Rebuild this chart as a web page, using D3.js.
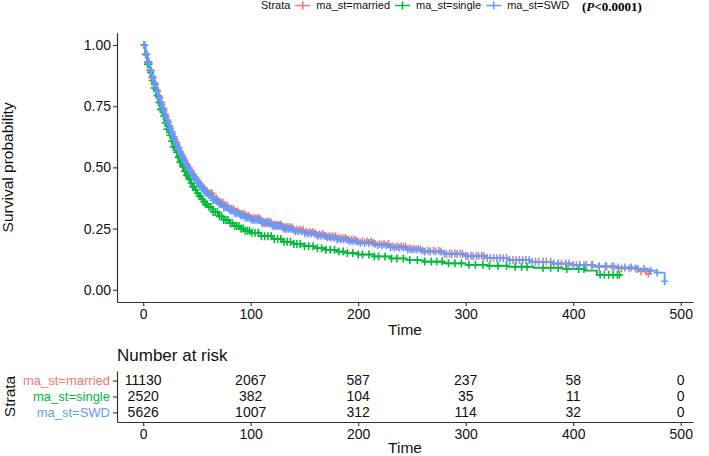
<!DOCTYPE html>
<html>
<head>
<meta charset="utf-8">
<script src="https://cdn.jsdelivr.net/npm/d3@7"></script>
<style>
  body { margin: 0; background: #fff; }
  text { font-family: "Liberation Sans", Arial, Helvetica, sans-serif; }
</style>
</head>
<body>
<svg id="chart" width="709" height="456"></svg>
<script>
// strata + colours (ggplot defaults)
const strata = ["ma_st=married", "ma_st=single", "ma_st=SWD"];
const colors = ["#F8766D", "#00BA38", "#619CFF"];

// KM estimates (time in months)
const marriedTime = [0,2,4,6,8,10,12,14,16,18,20,22,24,26,28,30,32,34,36,38,40,42,44,46,48,50,52,54,56,58,60,65,70,75,80,85,90,95,100,110,120,130,140,150,160,170,180,190,200,215,230,245,260,280,300,320,340,360,380,400,420,440,460,470];
const marriedSurv = [1,0.964,0.931,0.899,0.871,0.844,0.817,0.791,0.766,0.741,0.716,0.692,0.669,0.646,0.624,0.603,0.583,0.564,0.546,0.529,0.513,0.498,0.484,0.471,0.458,0.446,0.434,0.423,0.413,0.403,0.394,0.373,0.357,0.343,0.331,0.32,0.31,0.301,0.292,0.278,0.266,0.255,0.245,0.236,0.227,0.219,0.211,0.204,0.197,0.187,0.177,0.168,0.159,0.148,0.139,0.13,0.122,0.114,0.107,0.1,0.094,0.087,0.076,0.065];

const singleTime = [0,2,4,6,8,10,12,14,16,18,20,22,24,26,28,30,32,34,36,38,40,42,44,46,48,50,52,54,56,58,60,65,70,75,80,85,90,95,100,110,120,130,140,150,160,170,180,190,200,215,230,245,260,280,300,320,340,363,390,411,422,443];
const singleSurv = [1,0.96,0.922,0.887,0.855,0.824,0.794,0.765,0.737,0.709,0.682,0.656,0.631,0.607,0.584,0.562,0.541,0.521,0.502,0.484,0.467,0.451,0.436,0.421,0.407,0.394,0.382,0.37,0.359,0.349,0.339,0.318,0.3,0.285,0.272,0.26,0.25,0.241,0.233,0.219,0.207,0.196,0.187,0.178,0.17,0.163,0.156,0.15,0.144,0.136,0.128,0.121,0.115,0.108,0.102,0.098,0.094,0.09,0.085,0.078,0.061,0.061];

const swdTime = [0,2,4,6,8,10,12,14,16,18,20,22,24,26,28,30,32,34,36,38,40,42,44,46,48,50,52,54,56,58,60,65,70,75,80,85,90,95,100,110,120,130,140,150,160,170,180,190,200,215,230,245,260,280,300,320,340,360,380,400,420,440,460,470,478,485];
const swdSurv = [1,0.962,0.928,0.895,0.866,0.838,0.81,0.784,0.758,0.733,0.708,0.683,0.66,0.637,0.615,0.594,0.574,0.555,0.537,0.52,0.504,0.489,0.475,0.462,0.45,0.438,0.427,0.416,0.406,0.396,0.387,0.366,0.35,0.336,0.324,0.313,0.303,0.294,0.286,0.272,0.26,0.249,0.239,0.23,0.221,0.213,0.205,0.198,0.191,0.182,0.173,0.164,0.156,0.146,0.137,0.129,0.121,0.114,0.107,0.101,0.096,0.091,0.085,0.078,0.07,0.035];

// censoring times
const marriedCensor = [1,2,3,4,5,6,7,8,9,10,11,12,13,14,15,16,17,18,19,20,21,22,23,24,25,26,27,28,29,30,31,32,33,34,35,36,37,38,39,40,41,42,43,44,45,46,47,48,49,50,51,52,53,54,55,56,57,58,59,60,62,64,66,68,70,72,74,76,78,80,82,84,86,88,90,92,94,96,98,100,102,104,106,108,110,112,114,116,118,120,122,124,126,128,130,132,134,136,138,140,143,146,149,152,155,158,161,164,167,170,173,176,179,182,185,188,191,194,197,200,204,208,212,216,220,224,228,232,236,240,244,248,252,256,260,265,270,275,280,285,290,295,300,305,310,315,320,326,332,338,344,350,356,362,368,375,382,389,396,403,410,417,424,431,438,445,452,458,463,468,470];
const singleCensor = [1,2.5,4,5.5,7,8.5,10,11.5,13,14.5,16,17.5,19,20.5,22,23.5,25,26.5,28,29.5,31,32.5,34,35.5,37,38.5,40,41.5,43,44.5,46,47.5,49,50.5,52,53.5,55,56.5,58,59.5,61,63,65,67,69,71,73,75,77,79,81,83,85,87,89,91,93,95,97,99,101,104,107,110,113,116,119,122,125,128,131,134,137,140,143,146,150,154,158,162,166,170,174,178,182,186,190,195,200,204,210,215,219,225,231,236,242,248,255,262,268,273,278,284,290,296,303,309,316,322,330,338,346,352,357,372,379,386,394,405,410,425,429,433,437,441,443];
const swdCensor = [0.5,1.5,2.5,3.5,4.5,5.5,6.5,7.5,8.5,9.5,10.5,11.5,12.5,13.5,14.5,15.5,16.5,17.5,18.5,19.5,20.5,21.5,22.5,23.5,24.5,25.5,26.5,27.5,28.5,29.5,30.5,31.5,32.5,33.5,34.5,35.5,36.5,37.5,38.5,39.5,40.5,41.5,42.5,43.5,44.5,45.5,46.5,47.5,48.5,49.5,50.5,51.5,52.5,53.5,54.5,55.5,56.5,57.5,58.5,59.5,61,63,65,67,69,71,73,75,77,79,81,83,85,87,89,91,93,95,97,99,101,103,105,107,109,111,113,115,117,119,121,123,125,127,129,131,133,135,137,139,141.5,144.5,147.5,150.5,153.5,156.5,159.5,162.5,165.5,168.5,171.5,174.5,177.5,180.5,183.5,186.5,189.5,192.5,195.5,198.5,202,206,210,214,218,222,226,230,234,238,242,246,250,254,258,262,267,272,277,282,287,292,297,302,307,312,317,323,329,335,341,347,353,359,365,372,379,386,393,400,406,412,418,424,430,436,442,448,454,460,466,472,478,485];

// risk table
const riskTimes = [0, 100, 200, 300, 400, 500];
const riskMarried = [11130, 2067, 587, 237, 58, 0];
const riskSingle = [2520, 382, 104, 35, 11, 0];
const riskSWD = [5626, 1007, 312, 114, 32, 0];

const xTicks = [0, 100, 200, 300, 400, 500];
const yTicks = [0, 0.25, 0.5, 0.75, 1];

const groups = [
  { name: strata[0], time: marriedTime, surv: marriedSurv, censor: marriedCensor, risk: riskMarried },
  { name: strata[1], time: singleTime, surv: singleSurv, censor: singleCensor, risk: riskSingle },
  { name: strata[2], time: swdTime, surv: swdSurv, censor: swdCensor, risk: riskSWD },
];

const svg = d3.select("#chart");
const color = d3.scaleOrdinal().domain(strata).range(colors);

// panel geometry
const pLeft = 117, pRight = 693, pTop = 32.75, pBottom = 302;
const x = d3.scaleLinear().domain([-24.35, 511.4]).range([pLeft, pRight]);
const y = d3.scaleLinear().domain([-0.05, 1.05]).range([pBottom, pTop]);

// curves
const line = d3.line().curve(d3.curveStepAfter)
  .x(d => x(d[0])).y(d => y(d[1]));

const plot = svg.append("g");
groups.forEach(g => {
  const pts = g.time.map((t, i) => [t, g.surv[i]]);
  plot.append("path")
    .attr("d", line(pts))
    .attr("fill", "none")
    .attr("stroke", color(g.name))
    .attr("stroke-width", 1.8);

  const bis = d3.bisector(d => d).right;
  plot.append("g").selectAll("path")
    .data(g.censor)
    .join("path")
    .attr("transform", t => {
      const i = Math.max(0, bis(g.time, t) - 1);
      return `translate(${x(t)},${y(g.surv[i])})`;
    })
    .attr("d", "M-3.5,0H3.5M0,-4V4")
    .attr("stroke", color(g.name))
    .attr("stroke-width", 1.6)
    .attr("fill", "none");
});

// axes
function styleAxis(sel) {
  sel.select(".domain").attr("stroke", "#333").attr("stroke-width", 1.2);
  sel.selectAll(".tick line").attr("stroke", "#333").attr("stroke-width", 1.1);
  sel.selectAll(".tick text").attr("fill", "#111")
    .style("font-family", '"Liberation Sans", Arial, sans-serif')
    .style("font-size", "14px");
}

svg.append("g")
  .attr("transform", `translate(${pLeft},0)`)
  .call(d3.axisLeft(y).tickValues(yTicks).tickFormat(d3.format(".2f")).tickSize(4).tickSizeOuter(0).tickPadding(2))
  .call(styleAxis);

svg.append("g")
  .attr("transform", `translate(0,${pBottom})`)
  .call(d3.axisBottom(x).tickValues(xTicks).tickSize(4).tickSizeOuter(0).tickPadding(3))
  .call(styleAxis);

svg.append("text")
  .attr("x", (pLeft + pRight) / 2).attr("y", 335)
  .attr("text-anchor", "middle").attr("font-size", 15.5).attr("fill", "#111")
  .text("Time");

svg.append("text")
  .attr("transform", `translate(13,${(pTop + pBottom) / 2}) rotate(-90)`)
  .attr("text-anchor", "middle").attr("font-size", 15.5).attr("fill", "#111")
  .text("Survival probability");

// legend
const legend = svg.append("g").attr("transform", "translate(261,9)");
const lt = legend.append("text").attr("font-size", 11).attr("fill", "#111").text("Strata");
let lx = lt.node().getComputedTextLength() + 5;
strata.forEach(s => {
  const item = legend.append("g").attr("transform", `translate(${lx},0)`);
  item.append("path").attr("d", "M0,-3.5H15M7.5,-7.5V0.5")
    .attr("stroke", color(s)).attr("stroke-width", 1.6).attr("fill", "none");
  const t = item.append("text").attr("x", 21).attr("font-size", 11).attr("fill", "#111").text(s);
  lx += 21 + t.node().getComputedTextLength() + 5;
});

// p-value
const pv = svg.append("text").attr("x", 582).attr("y", 11)
  .style("font-family", '"Liberation Serif", "Times New Roman", serif')
  .attr("font-size", 13).attr("font-weight", "bold").attr("fill", "#000");
pv.append("tspan").text("(");
pv.append("tspan").attr("font-style", "italic").text("P");
pv.append("tspan").text("<0.0001)");

// risk table
const tTop = 371, tBottom = 422;
const yr = d3.scalePoint().domain(strata).range([tTop, tBottom]).padding(0.6);

svg.append("text").attr("x", pLeft).attr("y", 361)
  .attr("font-size", 17).attr("fill", "#111").text("Number at risk");

const table = svg.append("g");
groups.forEach(g => {
  table.append("g").selectAll("text")
    .data(riskTimes)
    .join("text")
    .attr("x", d => x(d))
    .attr("y", yr(g.name))
    .attr("dy", "0.35em")
    .attr("text-anchor", "middle")
    .attr("font-size", 14)
    .attr("fill", "#111")
    .text((d, i) => g.risk[i]);
});

const ya = svg.append("g")
  .attr("transform", `translate(${pLeft},0)`)
  .call(d3.axisLeft(yr).tickSize(4).tickSizeOuter(0).tickPadding(3))
  .call(styleAxis);
ya.selectAll(".tick text").style("font-size", "13px").attr("fill", d => color(d));

svg.append("g")
  .attr("transform", `translate(0,${tBottom})`)
  .call(d3.axisBottom(x).tickValues(xTicks).tickSize(4).tickSizeOuter(0).tickPadding(3))
  .call(styleAxis);

svg.append("text")
  .attr("x", (pLeft + pRight) / 2).attr("y", 453)
  .attr("text-anchor", "middle").attr("font-size", 15.5).attr("fill", "#111")
  .text("Time");

svg.append("text")
  .attr("transform", `translate(15,${(tTop + tBottom) / 2}) rotate(-90)`)
  .attr("text-anchor", "middle").attr("font-size", 15.5).attr("fill", "#111")
  .text("Strata");
</script>
</body>
</html>
